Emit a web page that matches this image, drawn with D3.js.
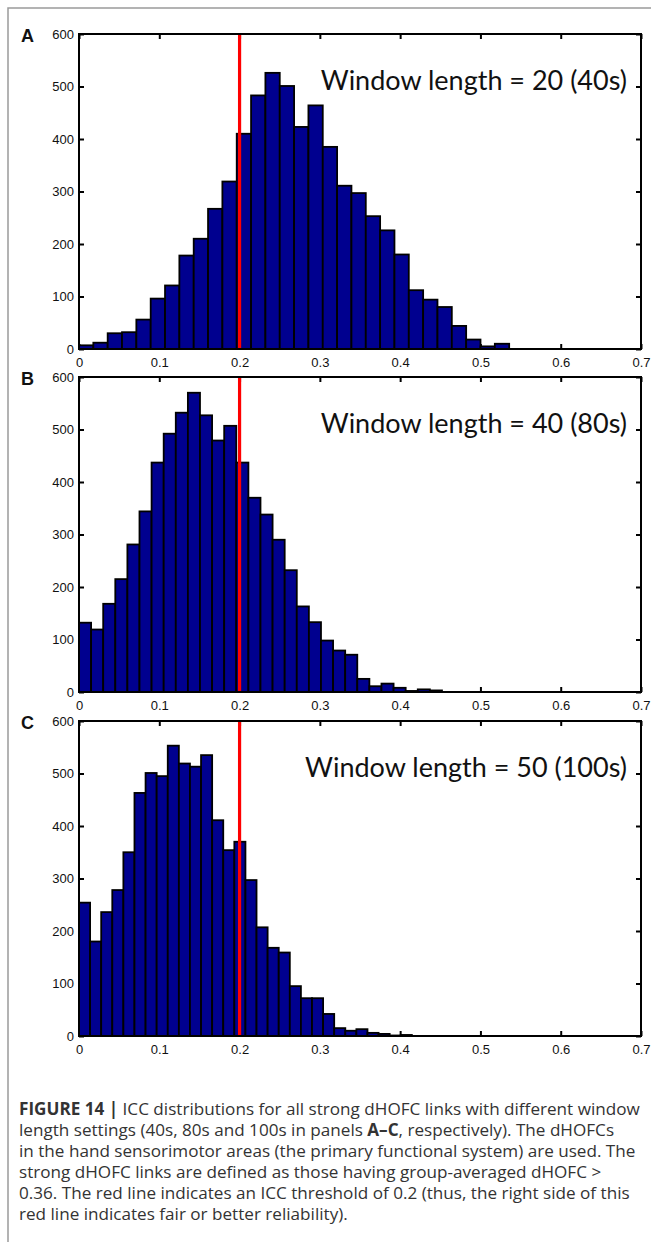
<!DOCTYPE html>
<html>
<head>
<meta charset="utf-8">
<script src="https://cdn.jsdelivr.net/npm/d3@7"></script>
<style>
  body { margin: 0; background: #fff; }
  svg { display: block; }
</style>
</head>
<body>
<svg id="fig" width="651" height="1242"></svg>
<script>
// histogram counts (one entry per bin, bins start at 0)
const countsA = [7, 12, 30, 32, 56, 96, 121, 178, 210, 267, 319, 410, 483, 526, 501,
    423, 464, 385, 311, 297, 253, 226, 180, 112, 94, 80, 44, 18, 5, 10];
const countsB = [132, 119, 168, 215, 281, 344, 437, 492, 532, 570, 527, 479, 507, 437,
    370, 338, 290, 232, 163, 133, 98, 79, 71, 25, 11, 16, 8, 2, 5, 3];
const countsC = [254, 180, 236, 278, 350, 463, 501, 495, 553, 519, 513, 535, 411, 354,
    370, 297, 207, 168, 159, 95, 72, 72, 42, 15, 10, 13, 6, 4, 1, 2];
const binWidths = [0.01786, 0.01507, 0.01382];
const panelLabels = ["A", "B", "C"];
const panelTitles = ["Window length = 20 (40s)", "Window length = 40 (80s)", "Window length = 50 (100s)"];
const xTicks = [0, 0.1, 0.2, 0.3, 0.4, 0.5, 0.6, 0.7];
const yTicks = [0, 100, 200, 300, 400, 500, 600];
const threshold = 0.2;

const captionLines = [
    [["FIGURE 14 |", true], [" ICC distributions for all strong dHOFC links with different window", false]],
    [["length settings (40s, 80s and 100s in panels ", false], ["A\u2013C", true], [", respectively). The dHOFCs", false]],
    [["in the hand sensorimotor areas (the primary functional system) are used. The", false]],
    [["strong dHOFC links are defined as those having group-averaged dHOFC >", false]],
    [["0.36. The red line indicates an ICC threshold of 0.2 (thus, the right side of this", false]],
    [["red line indicates fair or better reliability).", false]]
];

const svg = d3.select("#fig");
const panelTops = [34, 377, 721];
const left = 79, width = 562, height = 315;

// page frame
svg.append("path")
    .attr("d", "M8,1242V8H651")
    .attr("fill", "none")
    .attr("stroke", "#9a9a9a")
    .attr("stroke-width", 1.5);

const x = d3.scaleLinear().domain([0, 0.7]).range([0, width]);
const y = d3.scaleLinear().domain([0, 600]).range([height, 0]);
const fmt = d => d === 0 ? "0" : d3.format(".1f")(d);

const allCounts = [countsA, countsB, countsC];

allCounts.forEach((counts, i) => {
    const g = svg.append("g").attr("transform", `translate(${left},${panelTops[i]})`);
    const bw = binWidths[i];

    // axes with inward ticks, MATLAB style
    g.append("g").attr("transform", `translate(0,${height})`)
        .call(d3.axisBottom(x).tickValues(xTicks).tickFormat(fmt).tickSizeInner(-5).tickSizeOuter(0).tickPadding(9));
    g.append("g")
        .call(d3.axisLeft(y).tickValues(yTicks).tickSizeInner(-5).tickSizeOuter(0).tickPadding(5));
    g.append("g").call(d3.axisTop(x).tickValues(xTicks).tickFormat("").tickSizeInner(-5).tickSizeOuter(0));
    g.append("g").attr("transform", `translate(${width},0)`)
        .call(d3.axisRight(y).tickValues(yTicks).tickFormat("").tickSizeInner(-5).tickSizeOuter(0));

    g.selectAll(".domain").remove();
    g.selectAll(".tick line").attr("stroke", "#000").attr("stroke-width", 2);
    g.selectAll(".tick text")
        .attr("font-family", "Liberation Sans, Arial, sans-serif")
        .attr("font-size", 13)
        .attr("fill", "#111");

    // bars
    g.selectAll("rect.bar")
        .data(counts)
        .join("rect")
        .attr("class", "bar")
        .attr("x", (d, j) => x(j * bw))
        .attr("width", x(bw) - x(0))
        .attr("y", d => y(d))
        .attr("height", d => y(0) - y(d))
        .attr("fill", "#00008f")
        .attr("stroke", "#000")
        .attr("stroke-width", 1.8);

    // threshold line
    g.append("line")
        .attr("x1", x(threshold)).attr("x2", x(threshold))
        .attr("y1", -1).attr("y2", height)
        .attr("stroke", "#ff0000")
        .attr("stroke-width", 3.2);

    // box
    g.append("rect")
        .attr("width", width).attr("height", height)
        .attr("fill", "none")
        .attr("stroke", "#000")
        .attr("stroke-width", 2);

    g.append("text")
        .attr("x", 548).attr("y", 56)
        .attr("text-anchor", "end")
        .attr("font-family", "Lato, Open Sans, sans-serif")
        .attr("font-size", 27)
        .attr("fill", "#111")
        .text(panelTitles[i]);

    g.append("text")
        .attr("x", -58).attr("y", 8)
        .attr("font-family", "Liberation Sans, Arial, sans-serif")
        .attr("font-weight", "bold")
        .attr("font-size", 18)
        .attr("fill", "#111")
        .text(panelLabels[i]);
});

// caption
const cap = svg.append("text")
    .attr("font-family", "Open Sans, Liberation Sans, sans-serif")
    .attr("font-size", 16)
    .attr("fill", "#333");
captionLines.forEach((parts, k) => {
    const line = cap.append("tspan").attr("x", 19).attr("y", 1115 + k * 21);
    parts.forEach(([t, b]) => {
        line.append("tspan")
            .attr("font-weight", b ? "bold" : null)
            .text(t);
    });
});
// fit the first caption line to the page width like the original
const first = cap.select("tspan").node();
const w = first.getComputedTextLength();
cap.attr("font-size", 16 * 621 / w);
</script>
</body>
</html>
